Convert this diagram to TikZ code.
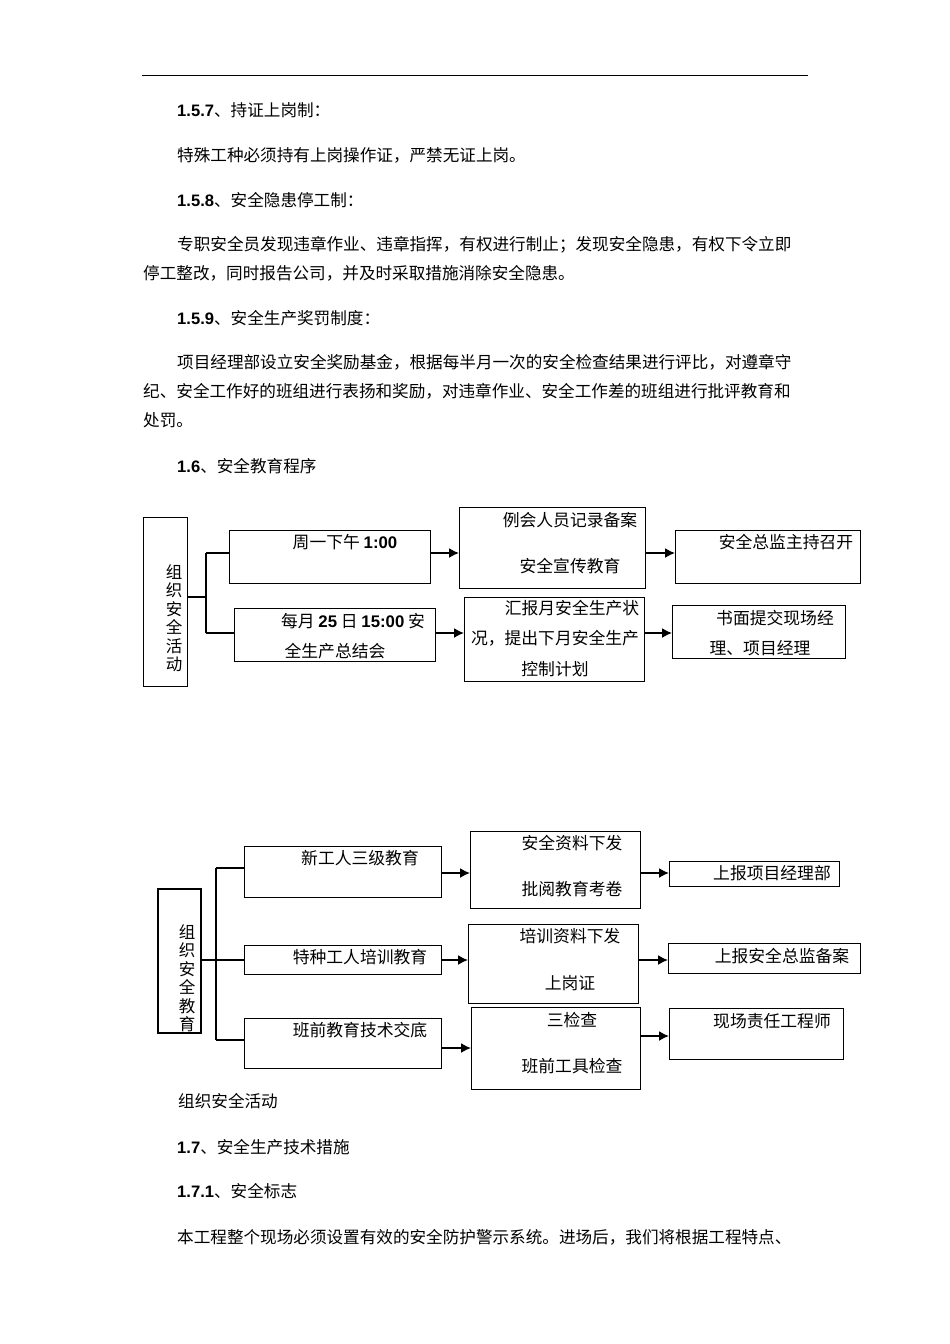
\documentclass[tikz,border=0pt]{standalone}
\usepackage{fontspec}
\setmainfont{Noto Sans CJK SC}
\newfontfamily\numf{Liberation Sans}
\usetikzlibrary{arrows.meta}
\newcommand{\bn}[1]{{\numf\bfseries #1}}
\begin{document}
\begin{tikzpicture}[x=1pt,y=-1pt,
  txt/.style={anchor=west,inner sep=0pt,font=\fontsize{16.6}{17}\selectfont},
  ctx/.style={inner sep=0pt,font=\fontsize{16.8}{17}\selectfont},
  vtx/.style={inner sep=0pt,align=center,font=\fontsize{16.5}{18.5}\selectfont},
  bx/.style={draw,line width=1.1pt,anchor=north west,inner sep=0pt},
  ln/.style={line width=1.3pt},
  arr/.style={line width=1.5pt,-{Latex[length=10pt,width=10pt]}}]
\useasboundingbox (0,0) rectangle (950,1344);
\draw[line width=0.8pt] (142,75) -- (808,75);
\node[txt] (p1) at (177,110) {\bn{1.5.7}、持证上岗制：};
\node[txt] (p2) at (177,155) {特殊工种必须持有上岗操作证，严禁无证上岗。};
\node[txt] (p3) at (177,200) {\bn{1.5.8}、安全隐患停工制：};
\node[txt] (p4) at (177,245) {专职安全员发现违章作业、违章指挥，有权进行制止；发现安全隐患，有权下令立即};
\node[txt] (p5) at (143,273) {停工整改，同时报告公司，并及时采取措施消除安全隐患。};
\node[txt] (p6) at (177,318) {\bn{1.5.9}、安全生产奖罚制度：};
\node[txt] (p7) at (177,362) {项目经理部设立安全奖励基金，根据每半月一次的安全检查结果进行评比，对遵章守};
\node[txt] (p8) at (143,391) {纪、安全工作好的班组进行表扬和奖励，对违章作业、安全工作差的班组进行批评教育和};
\node[txt] (p9) at (143,420) {处罚。};
\node[txt] (p10) at (177,466) {\bn{1.6}、安全教育程序};
% diagram 1
\node[bx,minimum width=44pt,minimum height=169pt] (L1) at (143,517) {};
\node[vtx] (L1t) at (174,618) {组\\织\\安\\全\\活\\动};
\node[bx,minimum width=201pt,minimum height=53pt] (A) at (229,530) {};
\node[ctx] at (345,542) {周一下午 \bn{1:00}};
\node[bx,minimum width=186pt,minimum height=81pt] (B) at (459,507) {};
\node[ctx] at (570,520) {例会人员记录备案};
\node[ctx] at (570,566) {安全宣传教育};
\node[bx,minimum width=185pt,minimum height=53pt] (C) at (675,530) {};
\node[ctx] at (786,542) {安全总监主持召开};
\node[bx,minimum width=201pt,minimum height=53pt] (D) at (234,608) {};
\node[ctx] at (353,621) {每月 \bn{25} 日 \bn{15:00} 安};
\node[ctx] at (335,651) {全生产总结会};
\node[bx,minimum width=180pt,minimum height=84pt] (E) at (464,597) {};
\node[ctx] at (572,608) {汇报月安全生产状};
\node[ctx] at (555,638) {况，提出下月安全生产};
\node[ctx] at (555,669) {控制计划};
\node[bx,minimum width=173pt,minimum height=53pt] (F) at (672,605) {};
\node[ctx] at (775,618) {书面提交现场经};
\node[ctx] at (760,648) {理、项目经理};
\coordinate (j1) at (206,597);
\draw[ln] (L1.east |- j1) -- (j1);
\draw[ln] (206,553) -- (206,633);
\draw[ln] (206,553) -- (A.west |- 0,553);
\draw[ln] (206,633) -- (D.west |- 0,633);
\draw[arr] (A.east |- 0,553) -- (B.west |- 0,553);
\draw[arr] (B.east |- 0,553) -- (C.west |- 0,553);
\draw[arr] (D.east |- 0,633) -- (E.west |- 0,633);
\draw[arr] (E.east |- 0,633) -- (F.west |- 0,633);
% diagram 2
\node[bx,line width=1.8pt,minimum width=43pt,minimum height=144pt] (L2) at (157,888) {};
\node[vtx] (L2t) at (187,978) {组\\织\\安\\全\\教\\育};
\node[bx,minimum width=197pt,minimum height=51pt] (G) at (244,846) {};
\node[ctx] at (360,858) {新工人三级教育};
\node[bx,minimum width=170pt,minimum height=77pt] (H) at (470,831) {};
\node[ctx] at (572,843) {安全资料下发};
\node[ctx] at (572,889) {批阅教育考卷};
\node[bx,minimum width=170pt,minimum height=25pt] (I) at (669,861) {};
\node[ctx] at (772,873) {上报项目经理部};
\node[bx,minimum width=197pt,minimum height=29pt] (J) at (244,945) {};
\node[ctx] at (360,957) {特种工人培训教育};
\node[bx,minimum width=170pt,minimum height=79pt] (K) at (468,924) {};
\node[ctx] at (570,936) {培训资料下发};
\node[ctx] at (570,983) {上岗证};
\node[bx,minimum width=192pt,minimum height=30pt] (Lb) at (668,943) {};
\node[ctx] at (782,956) {上报安全总监备案};
\node[bx,minimum width=197pt,minimum height=50pt] (M) at (244,1018) {};
\node[ctx] at (360,1030) {班前教育技术交底};
\node[bx,minimum width=169pt,minimum height=82pt] (N) at (471,1007) {};
\node[ctx] at (572,1020) {三检查};
\node[ctx] at (572,1066) {班前工具检查};
\node[bx,minimum width=174pt,minimum height=51pt] (O) at (669,1008) {};
\node[ctx] at (772,1021) {现场责任工程师};
\draw[ln] (L2.east |- 0,960) -- (216,960);
\draw[line width=2pt] (216,868) -- (216,1040);
\draw[line width=1.8pt] (216,868) -- (G.west |- 0,868);
\draw[ln] (216,960) -- (J.west |- 0,960);
\draw[ln] (216,1040) -- (M.west |- 0,1040);
\draw[arr] (G.east |- 0,873) -- (H.west |- 0,873);
\draw[arr] (H.east |- 0,873) -- (I.west |- 0,873);
\draw[arr] (J.east |- 0,960) -- (K.west |- 0,960);
\draw[arr] (K.east |- 0,960) -- (Lb.west |- 0,960);
\draw[arr] (M.east |- 0,1048) -- (N.west |- 0,1048);
\draw[arr] (N.east |- 0,1036) -- (O.west |- 0,1036);
\node[txt] (q1) at (178,1101) {组织安全活动};
\node[txt] (q2) at (177,1147) {\bn{1.7}、安全生产技术措施};
\node[txt] (q3) at (177,1191) {\bn{1.7.1}、安全标志};
\node[txt] (q4) at (177,1237) {本工程整个现场必须设置有效的安全防护警示系统。进场后，我们将根据工程特点、};
\end{tikzpicture}
\end{document}
